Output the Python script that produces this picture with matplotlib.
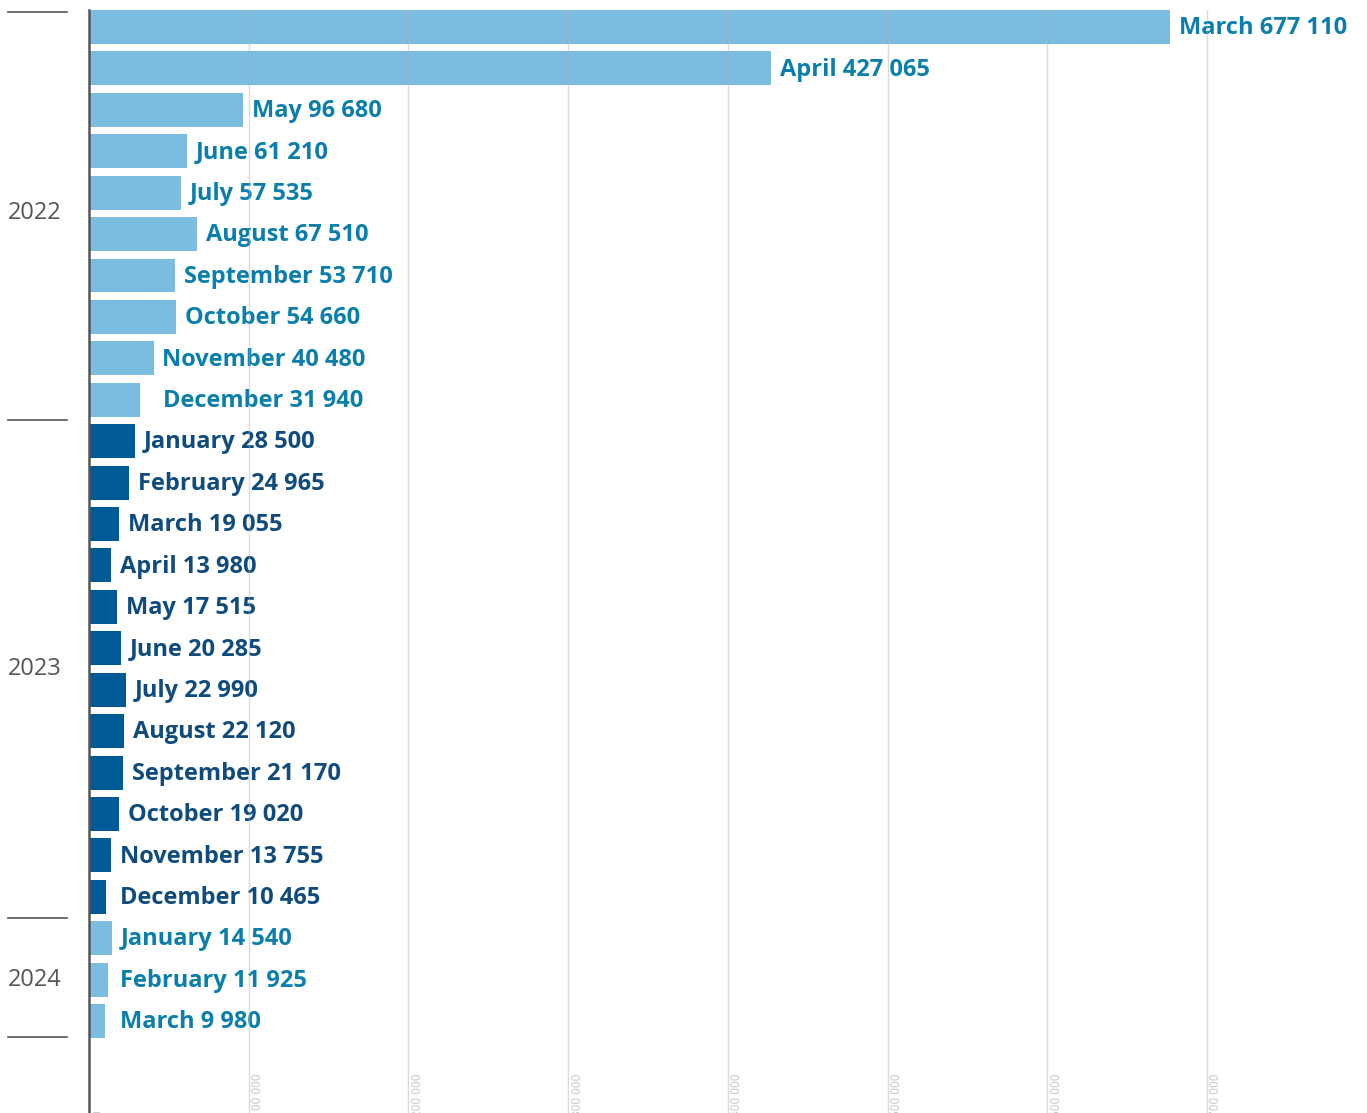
import numpy as np
import matplotlib.pyplot as plt
from matplotlib import transforms

# monthly values, oldest first
months = ['March', 'April', 'May', 'June', 'July', 'August', 'September',
          'October', 'November', 'December',
          'January', 'February', 'March', 'April', 'May', 'June', 'July',
          'August', 'September', 'October', 'November', 'December',
          'January', 'February', 'March']
values = [677110, 427065, 96680, 61210, 57535, 67510, 53710,
          54660, 40480, 31940,
          28500, 24965, 19055, 13980, 17515, 20285, 22990,
          22120, 21170, 19020, 13755, 10465,
          14540, 11925, 9980]
years = ['2022'] * 10 + ['2023'] * 12 + ['2024'] * 3
year_names = ['2022', '2023', '2024']
ticks = [0, 100000, 200000, 300000, 400000, 500000, 600000, 700000]

light_bar = '#7bbce0'
light_text = '#0b7fab'
dark_bar = '#005a96'
dark_text = '#0f4c7d'

plt.rcParams['font.family'] = ['Open Sans', 'DejaVu Sans']

fig = plt.figure(figsize=(13.67, 11.13), dpi=100)
ax = fig.add_axes([89 / 1367, 0, 1 - 89 / 1367, 1 - 10 / 1113])

y = np.arange(len(values))
bar_colors = [dark_bar if yr == '2023' else light_bar for yr in years]
ax.barh(y, values, height=0.82, color=bar_colors, zorder=2)

ax.set_xlim(0, 800200)
ax.set_ylim(26.22, -0.41)

# labels next to the bars
for i, (m, v, yr) in enumerate(zip(months, values, years)):
    txt = f'{m} {v:,}'.replace(',', ' ')
    x = max(v + 5500, 19400)
    if i == 9:
        x = v + 14400
    ax.text(x, i + 0.03, txt, va='center', ha='left', fontsize=17,
            fontweight='bold',
            color=dark_text if yr == '2023' else light_text, zorder=3)

# vertical grid on top of everything
for t in ticks[1:]:
    ax.axvline(t, color='#b0b0b0', alpha=0.45, lw=1, zorder=5)

# rotated tick labels at the bottom (cut by the figure edge, as in the source)
trans = transforms.blended_transform_factory(ax.transData, ax.transAxes)
for t in ticks:
    lab = f'{t:,}'.replace(',', ' ')
    ax.text(t + 1500, -0.004, lab, rotation=90, ha='left', va='bottom',
            fontsize=8.5, color='#c4c4c4', transform=trans, zorder=4,
            clip_on=False)

for s in ['top', 'right', 'bottom']:
    ax.spines[s].set_visible(False)
ax.spines['left'].set_color('#555555')
ax.spines['left'].set_linewidth(1.8)
ax.set_xticks([])
ax.set_yticks([])

# year labels and separators in the left margin
ytrans = transforms.blended_transform_factory(fig.transFigure, ax.transData)
bounds = [-0.37]
for yn in year_names:
    idx = [i for i, yr in enumerate(years) if yr == yn]
    bounds.append(min(idx[-1] + 0.5, len(values) - 1 + 0.38))
    mid = (idx[0] + idx[-1]) / 2
    fig.text(8 / 1367, mid, yn, transform=ytrans, ha='left', va='center',
             fontsize=17, color='#555555')
for b in bounds:
    fig.add_artist(plt.Line2D([8 / 1367, 67 / 1367], [b, b], transform=ytrans,
                              color='#555555', lw=1.2))

fig.savefig('out.png', dpi=100)
